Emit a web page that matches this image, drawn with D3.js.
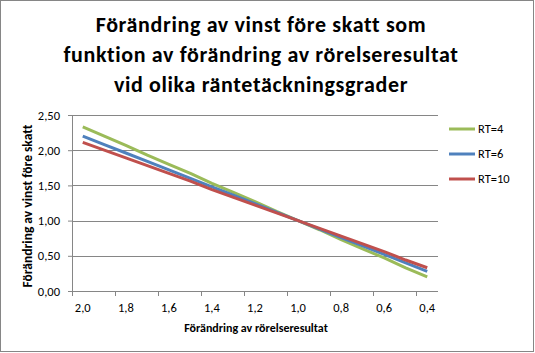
<!DOCTYPE html>
<html>
<head>
<meta charset="utf-8">
<script src="https://cdn.jsdelivr.net/npm/d3@7"></script>
<style>
  body { margin: 0; background: #fff; }
  text { font-family: Carlito, Calibri, Lato, "Open Sans", sans-serif; fill: #000;
         font-variant-ligatures: none; }
</style>
</head>
<body>
<div id="chart"></div>
<script>
// Data
var categories = ["2,0", "1,9", "1,8", "1,7", "1,6", "1,5", "1,4", "1,3", "1,2",
  "1,1", "1,0", "0,9", "0,8", "0,7", "0,6", "0,5", "0,4"];
var rt4 = [2.33, 2.20, 2.07, 1.93, 1.80, 1.67, 1.53, 1.40, 1.27, 1.13, 1.00, 0.87, 0.73, 0.60, 0.47, 0.33, 0.20];
var rt6 = [2.20, 2.08, 1.96, 1.84, 1.72, 1.60, 1.48, 1.36, 1.24, 1.12, 1.00, 0.88, 0.76, 0.64, 0.52, 0.40, 0.28];
var rt10 = [2.11, 2.00, 1.89, 1.78, 1.67, 1.56, 1.44, 1.33, 1.22, 1.11, 1.00, 0.89, 0.78, 0.67, 0.56, 0.44, 0.33];
var seriesNames = ["RT=4", "RT=6", "RT=10"];
var yTicks = [0, 0.5, 1, 1.5, 2, 2.5];

var svgWidth = 535;
var svgHeight = 353;

var margin = { top: 115, right: 97, bottom: 62, left: 72 };
var width = svgWidth - margin.left - margin.right;
var height = svgHeight - margin.top - margin.bottom;

var colors = ["#9BBB59", "#4F81BD", "#C0504D"];
var series = [rt4, rt6, rt10];

var svg = d3.select("#chart")
  .append("svg")
  .attr("width", svgWidth)
  .attr("height", svgHeight);

// outer border
svg.append("rect")
  .attr("x", 0.5).attr("y", 0.5)
  .attr("width", svgWidth - 2).attr("height", svgHeight - 2)
  .attr("fill", "#fff")
  .attr("stroke", "#868686");

// title: widest line should come out about 395px like the original
var titleLines = ["Förändring av vinst före skatt som",
  "funktion av förändring av rörelseresultat",
  "vid olika räntetäckningsgrader"];
var title = svg.append("g").selectAll("text")
  .data(titleLines)
  .enter()
  .append("text")
  .attr("x", 261)
  .attr("y", (d, i) => 32 + i * 30)
  .attr("text-anchor", "middle")
  .attr("font-size", "22px")
  .attr("font-weight", "bold")
  .text(d => d);
var widest = title.nodes()[1].getComputedTextLength();
var spacing = Math.max(0, (395 - widest) / titleLines[1].length);
title.attr("letter-spacing", spacing.toFixed(2) + "px");

var chartGroup = svg.append("g")
  .attr("transform", `translate(${margin.left}, ${margin.top})`);

var xScale = d3.scaleBand()
  .domain(categories)
  .range([0, width])
  .padding(0);

var yScale = d3.scaleLinear()
  .domain([0, 2.5])
  .range([height, 0]);

// gridlines
chartGroup.append("g")
  .selectAll("line")
  .data(yTicks.filter(d => d > 0))
  .enter()
  .append("line")
  .attr("x1", 0)
  .attr("x2", width)
  .attr("y1", d => Math.round(yScale(d)) + 0.5)
  .attr("y2", d => Math.round(yScale(d)) + 0.5)
  .attr("stroke", "#868686")
  .attr("stroke-width", 1);

// y axis
var leftAxis = d3.axisLeft(yScale)
  .tickValues(yTicks)
  .tickSize(4)
  .tickPadding(8)
  .tickFormat(d => d3.format(".2f")(d).replace(".", ","));

var yAxis = chartGroup.append("g")
  .call(leftAxis);
yAxis.selectAll("line").attr("stroke", "#868686");
yAxis.select(".domain").attr("stroke", "#868686").attr("d", `M0.5,0V${height}`);
yAxis.selectAll("text").attr("font-size", "12.5px")
  .attr("font-family", "Carlito, Calibri, Lato, sans-serif");

// x axis
var xAxis = chartGroup.append("g")
  .attr("transform", `translate(0, ${height})`);

xAxis.append("line")
  .attr("x1", 0).attr("x2", width)
  .attr("y1", 0.5).attr("y2", 0.5)
  .attr("stroke", "#868686");

xAxis.selectAll(".xtick")
  .data(categories.filter((d, i) => i % 2 === 0))
  .enter()
  .append("line")
  .attr("class", "xtick")
  .attr("x1", d => Math.round(xScale(d)) + 0.5)
  .attr("x2", d => Math.round(xScale(d)) + 0.5)
  .attr("y1", 0)
  .attr("y2", 5)
  .attr("stroke", "#868686");

xAxis.selectAll(".xlabel")
  .data(categories.filter((d, i) => i % 2 === 0))
  .enter()
  .append("text")
  .attr("class", "xlabel")
  .attr("x", d => xScale(d) + xScale.bandwidth() / 2)
  .attr("y", 21)
  .attr("text-anchor", "middle")
  .attr("font-size", "12.5px")
  .text(d => d);

// axis titles
chartGroup.append("text")
  .attr("x", 256 - margin.left)
  .attr("y", height + 41)
  .attr("text-anchor", "middle")
  .attr("font-size", "12px")
  .attr("font-weight", "bold")
  .text("Förändring av rörelseresultat");

chartGroup.append("text")
  .attr("transform", "rotate(-90)")
  .attr("x", -(206 - margin.top))
  .attr("y", 32 - margin.left)
  .attr("text-anchor", "middle")
  .attr("font-size", "13.5px")
  .attr("font-weight", "bold")
  .text("Förändring av vinst före skatt");

// lines
var line = d3.line()
  .x((d, i) => xScale(categories[i]) + xScale.bandwidth() / 2)
  .y(d => yScale(d));

chartGroup.selectAll(".series")
  .data(series)
  .enter()
  .append("path")
  .attr("class", "series")
  .attr("d", d => line(d))
  .attr("fill", "none")
  .attr("stroke", (d, i) => colors[i])
  .attr("stroke-width", 3)
  .attr("stroke-linejoin", "round");

// legend
var legend = svg.append("g")
  .attr("transform", "translate(449, 129)");

var legendItems = legend.selectAll("g")
  .data(seriesNames)
  .enter()
  .append("g")
  .attr("transform", (d, i) => `translate(0, ${i * 25})`);

legendItems.append("line")
  .attr("x1", 0).attr("x2", 26)
  .attr("y1", 0).attr("y2", 0)
  .attr("stroke", (d, i) => colors[i])
  .attr("stroke-width", 3);

legendItems.append("text")
  .attr("x", 29)
  .attr("y", 4)
  .attr("font-size", "12.5px")
  .text(d => d);
</script>
</body>
</html>
